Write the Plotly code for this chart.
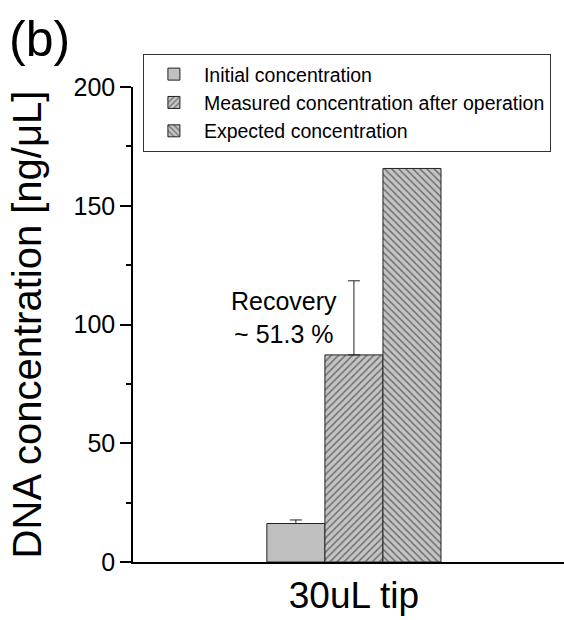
import plotly.graph_objects as go

category = ["30uL tip"]
series_names = ["Initial concentration", "Measured concentration after operation", "Expected concentration"]
values = [16.2, 87.2, 165.7]
errors_plus = [1.5, 31.2, None]
y_ticks = [0, 50, 100, 150, 200]

FONT = "Liberation Sans, Arial, sans-serif"
fills = [
    dict(shape="", bgcolor="#c0c0c0"),
    dict(shape="/", bgcolor="#c4c4c4", fgcolor="#1a1a1a", size=5, solidity=0.3),
    dict(shape="\\", bgcolor="#c4c4c4", fgcolor="#1a1a1a", size=5, solidity=0.3),
]

fig = go.Figure()
for name, v, e, pat in zip(series_names, values, errors_plus, fills):
    err = None
    if e is not None:
        err = dict(type="data", array=[e], arrayminus=[0], symmetric=False,
                   color="#222", thickness=1, width=6)
    fig.add_trace(go.Bar(
        x=[0], y=[v], name=name,
        marker=dict(color="#c0c0c0", pattern=pat, line=dict(color="#222", width=1)),
        error_y=err,
    ))

fig.update_layout(
    width=564, height=620,
    margin=dict(l=133, r=0, t=87, b=58),
    plot_bgcolor="white", paper_bgcolor="white",
    barmode="group", bargap=0.596, bargroupgap=0,
    font=dict(family=FONT, color="black"),
    legend=dict(
        x=0.023, y=1.0696, xanchor="left", yanchor="top",
        bordercolor="#333", borderwidth=1, bgcolor="white",
        font=dict(size=19.5, family=FONT),
        tracegroupgap=0, itemwidth=50,
    ),
    showlegend=True,
)
fig.update_xaxes(
    range=[-0.5126, 0.4874],
    tickvals=[0], ticktext=category,
    tickfont=dict(size=37, family=FONT),
    showline=True, linecolor="black", linewidth=2,
    ticks="", showgrid=False, zeroline=False,
)
fig.update_yaxes(
    range=[0, 200],
    tickvals=y_ticks,
    tickfont=dict(size=25, family=FONT),
    ticks="outside", ticklen=11, tickwidth=1.5, tickcolor="black",
    minor=dict(dtick=25, ticks="outside", ticklen=5, tickwidth=1.5, tickcolor="black", showgrid=False),
    showline=True, linecolor="black", linewidth=1.5,
    showgrid=False, zeroline=False,
    title=dict(text="DNA concentration [ng/μL]", font=dict(size=40, family=FONT), standoff=20),
)

fig.add_annotation(
    text="(b)", xref="paper", yref="paper",
    x=-133/431, y=1 + 87/474, xanchor="left", yanchor="top",
    xshift=7, yshift=-9,
    showarrow=False, font=dict(size=50, family=FONT),
)
fig.add_annotation(
    text="Recovery<br>~ 51.3 %", xref="x", yref="y",
    x=-0.162, y=103, xanchor="center", yanchor="middle",
    showarrow=False, font=dict(size=25, family=FONT), align="center",
)

fig.write_html("out.html")
